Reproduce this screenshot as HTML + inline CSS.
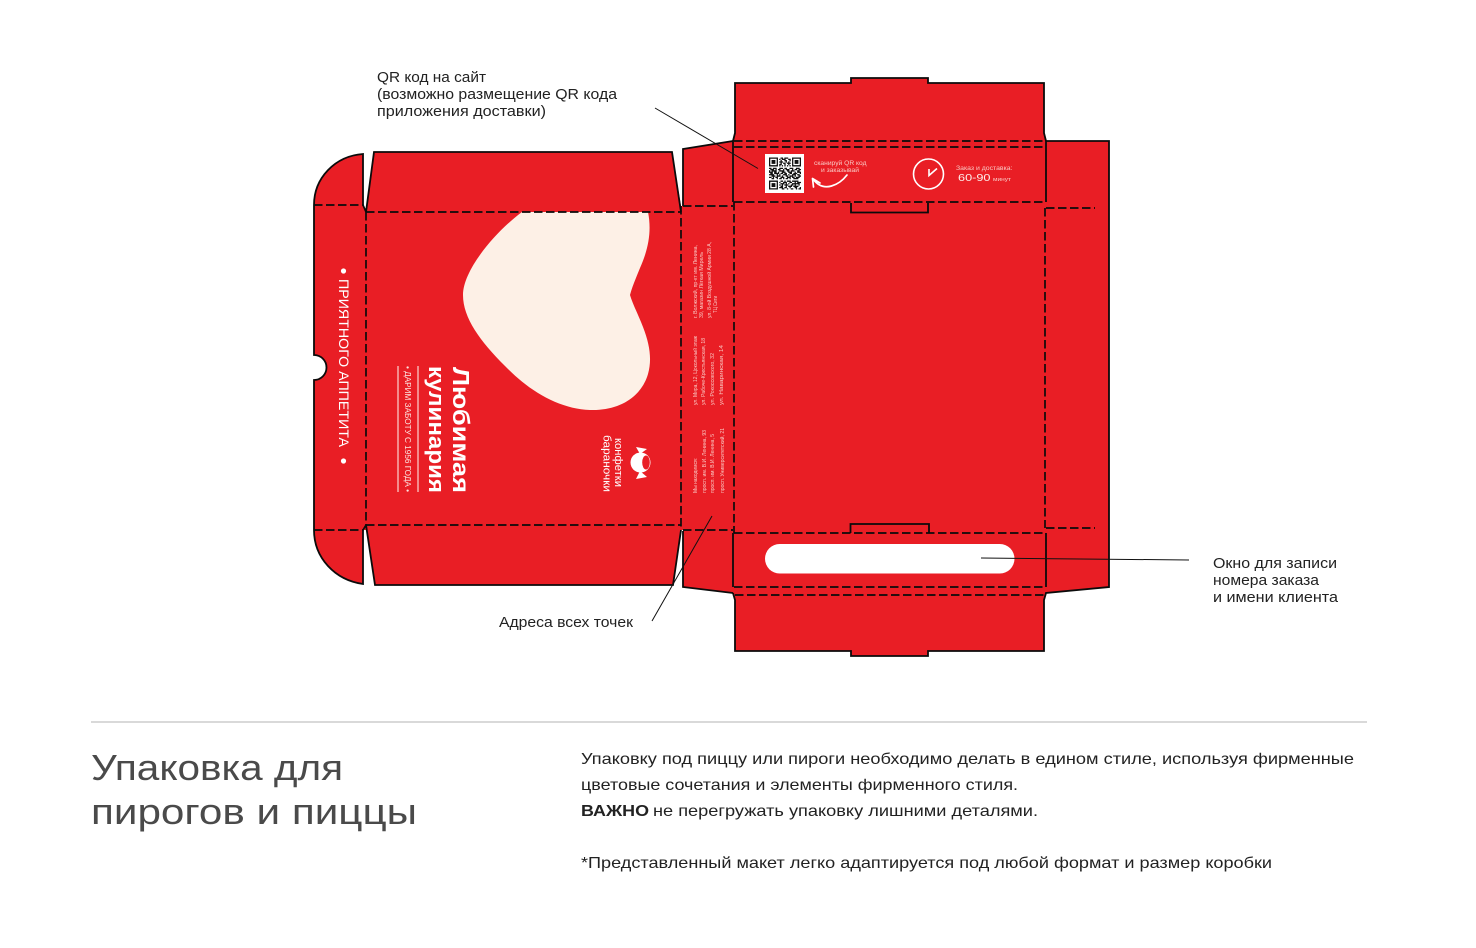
<!DOCTYPE html>
<html lang="ru"><head><meta charset="utf-8"><title>Упаковка</title>
<style>
html,body{margin:0;padding:0;background:#fff;width:1476px;height:948px;overflow:hidden}
svg{display:block}
text{font-family:"Liberation Sans","DejaVu Sans",sans-serif}
.s{fill:none;stroke:#0b0b0b;stroke-width:1.8;stroke-linejoin:miter}
.d{fill:none;stroke:#0b0b0b;stroke-width:1.7;stroke-dasharray:8.5 3.5}
.r{fill:#e91e25}
.a{font-size:14.5px;fill:#222}
.b{font-size:16px;fill:#222}
.t{font-size:5px;fill:#f9c9c4}
</style></head><body>
<svg width="1476" height="948" viewBox="0 0 1476 948" xmlns="http://www.w3.org/2000/svg">
<!-- red fills -->
<path class="r" d="M735 83H851V78H928V83H1044V133L1046 141H1109V587L1046 593L1044 600V651H928V656H851V651H735V600L733 593L683 587V530H681L673 585H375L366 525V530H363V584C335 580 314 558 314 530V380A11.5 11.5 0 0 0 314 355V205C314 178 335 156 363 154V205L366 212L374 152H672L681 206H683V149L733 141L735 133Z"/>
<!-- heart -->
<path fill="#fdf0e6" d="M522 212H648C652 232 648 250 640 268C636 278 632 287 630 295C633 305 638 314 643 327C650 345 652 360 648 374C641 398 618 411 590 410C560 409 530 392 505 366C480 341 463 318 463 295C463 270 495 232 522 212Z"/>
<!-- outlines -->
<path class="s" d="M733 141L735 133V83H851V78H928V83H1044V133L1046 141"/>
<path class="s" d="M733 141V202M1046 141V202M733 533V587M1046 533V587"/>
<path class="s" d="M851 203V212.5H928V203M850.5 533V524H929V533"/>
<path class="s" d="M1046 141H1109V587L1046 593L1044 600V651H928V656H851V651H735V600L733 593"/>
<path class="s" d="M733 593L683 587V531M683 206V149L733 141"/>
<path class="s" d="M681 212L672 152H374L366 212M366 525L375 585H673L681 530"/>
<path class="s" d="M363 205V154C335 156 314 178 314 205V355A11.5 11.5 0 0 1 314 380V530C314 558 335 580 363 584V530"/>
<!-- folds -->
<path class="d" d="M734 141H1046M734 147H1046M734 202H1046M734 533H1046M734 587H1046M735 595H1044"/>
<path class="d" d="M1046 208H1095M1046 528H1095M1045 208V528M734 202V533"/>
<path class="d" d="M683 206H733M683 530H733M681 206V530"/>
<path class="d" d="M366 212H681M366 525H681M366 212V525"/>
<path class="d" d="M314 205H363L366 212M314 530H363L366 525"/>
<!-- window -->
<rect x="765" y="544" width="249.5" height="29.5" rx="14.7" fill="#fff"/>
<!-- QR -->
<rect x="765" y="154" width="39" height="39" fill="#fff"/>
<g transform="translate(769 157.5) scale(1.28)" fill="none" stroke="#111" stroke-width="1">
<path d="M0 .5h7M0 1.5h1M6 1.5h1M0 2.5h1M2 2.5h3M6 2.5h1M0 3.5h1M2 3.5h3M6 3.5h1M0 4.5h1M2 4.5h3M6 4.5h1M0 5.5h1M6 5.5h1M0 6.5h7"/>
<path d="M18 .5h7M18 1.5h1M24 1.5h1M18 2.5h1M20 2.5h3M24 2.5h1M18 3.5h1M20 3.5h3M24 3.5h1M18 4.5h1M20 4.5h3M24 4.5h1M18 5.5h1M24 5.5h1M18 6.5h7"/>
<path d="M0 18.5h7M0 19.5h1M6 19.5h1M0 20.5h1M2 20.5h3M6 20.5h1M0 21.5h1M2 21.5h3M6 21.5h1M0 22.5h1M2 22.5h3M6 22.5h1M0 23.5h1M6 23.5h1M0 24.5h7"/>
<path d="M9 .5h2M12 .5h3M8 1.5h1M10 1.5h3M15 1.5h2M9 2.5h1M12 2.5h2M16 2.5h1M8 3.5h3M13 3.5h1M15 3.5h1M9 4.5h1M11 4.5h2M14 4.5h3M8 5.5h2M12 5.5h1M15 5.5h1M8 6.5h1M10 6.5h1M12 6.5h1M14 6.5h1M16 6.5h1"/>
<path d="M0 8.5h2M3 8.5h3M8 8.5h3M12 8.5h2M16 8.5h3M21 8.5h3M1 9.5h3M5 9.5h1M7 9.5h2M11 9.5h1M13 9.5h3M18 9.5h1M20 9.5h2M23 9.5h2M0 10.5h1M2 10.5h4M8 10.5h4M14 10.5h2M17 10.5h3M22 10.5h2M0 11.5h3M4 11.5h2M7 11.5h1M10 11.5h3M15 11.5h3M20 11.5h1M22 11.5h3M1 12.5h2M4 12.5h4M9 12.5h2M12 12.5h2M16 12.5h2M19 12.5h3M24 12.5h1M0 13.5h4M6 13.5h1M8 13.5h1M11 13.5h3M15 13.5h1M18 13.5h3M22 13.5h2M2 14.5h3M6 14.5h3M10 14.5h1M13 14.5h2M16 14.5h3M20 14.5h1M23 14.5h2M0 15.5h2M3 15.5h1M5 15.5h2M9 15.5h3M14 15.5h3M18 15.5h2M21 15.5h3M2 16.5h2M6 16.5h1M8 16.5h2M11 16.5h1M13 16.5h2M16 16.5h1M19 16.5h4"/>
<path d="M9 18.5h2M12 18.5h1M14 18.5h3M18 18.5h5M8 19.5h1M11 19.5h3M16 19.5h2M20 19.5h1M22 19.5h3M9 20.5h3M13 20.5h1M15 20.5h1M18 20.5h6M8 21.5h1M10 21.5h1M12 21.5h3M17 21.5h2M20 21.5h1M23 21.5h1M9 22.5h2M13 22.5h1M15 22.5h3M19 22.5h4M8 23.5h3M12 23.5h2M16 23.5h1M20 23.5h2M24 23.5h1M10 24.5h2M14 24.5h1M17 24.5h2M21 24.5h1M23 24.5h2"/>
</g>
<text x="814" y="165" class="t" style="font-size:6px" textLength="52.5" lengthAdjust="spacingAndGlyphs">сканируй QR код</text>
<text x="821" y="172" class="t" style="font-size:6px" textLength="38" lengthAdjust="spacingAndGlyphs">и заказывай</text>
<path d="M847 175C840 184 824 194 813 179M812.5 178.5L813.5 187M812.5 178.5L820 183" fill="none" stroke="#fff" stroke-width="1.7" stroke-linecap="round"/>
<circle cx="928.5" cy="174" r="15" fill="none" stroke="#fff" stroke-width="1.6"/>
<path d="M929 169V175.5L937 168.5" fill="none" stroke="#fff" stroke-width="1.6"/>
<text x="956" y="170" class="t" style="font-size:6px" textLength="56.5" lengthAdjust="spacingAndGlyphs">Заказ и доставка:</text>
<text x="958" y="181" font-size="10.5" fill="#fdeeea" textLength="32.5" lengthAdjust="spacingAndGlyphs">60-90</text>
<text x="993" y="181" class="t" textLength="18" lengthAdjust="spacingAndGlyphs">минут</text>
<!-- left panel text -->
<text transform="translate(453 367) rotate(90)" font-size="23" font-weight="700" fill="#fff" textLength="126" lengthAdjust="spacingAndGlyphs">Любимая</text>
<text transform="translate(429 366) rotate(90)" font-size="22" font-weight="700" fill="#fff" textLength="127" lengthAdjust="spacingAndGlyphs">кулинария</text>
<path d="M398 366V492M418 366V492" stroke="#fbd6d2" stroke-width="1.2"/>
<text transform="translate(405 366) rotate(90)" font-size="8" fill="#fde3df" textLength="126" lengthAdjust="spacingAndGlyphs">• ДАРИМ ЗАБОТУ С 1956 ГОДА •</text>
<text transform="translate(339 279) rotate(90)" font-size="14" fill="#fff" textLength="168" lengthAdjust="spacingAndGlyphs">ПРИЯТНОГО АППЕТИТА</text>
<circle cx="343.5" cy="271" r="2.6" fill="#fff"/><circle cx="343.5" cy="461" r="2.6" fill="#fff"/>
<text transform="translate(615 438) rotate(90)" font-size="11" fill="#fff" textLength="49" lengthAdjust="spacingAndGlyphs">конфетки</text>
<text transform="translate(603.5 435) rotate(90)" font-size="11" fill="#fff" textLength="57" lengthAdjust="spacingAndGlyphs">бараночки</text>
<circle cx="640.5" cy="462.5" r="10" fill="#fff"/>
<ellipse cx="646" cy="462.5" rx="3.8" ry="7" fill="#e91e25"/>
<path d="M640 454L636 447L647 449ZM640 471L636 479L647 477Z" fill="#fff"/>
<!-- addresses -->
<g class="addr">
<text transform="translate(697 493) rotate(-90)" class="t" textLength="35" lengthAdjust="spacingAndGlyphs">Мы находимся:</text>
<text transform="translate(706 493) rotate(-90)" class="t" textLength="63" lengthAdjust="spacingAndGlyphs">просп. им. В.И. Ленина, 93</text>
<text transform="translate(714 493) rotate(-90)" class="t" textLength="59" lengthAdjust="spacingAndGlyphs">просп. им. В.И. Ленина, 5</text>
<text transform="translate(724 493) rotate(-90)" class="t" textLength="65" lengthAdjust="spacingAndGlyphs">просп. Университетский, 21</text>
<text transform="translate(697 405) rotate(-90)" class="t" textLength="69" lengthAdjust="spacingAndGlyphs">ул. Мира, 12, Цокольный этаж</text>
<text transform="translate(705 405) rotate(-90)" class="t" textLength="67" lengthAdjust="spacingAndGlyphs">ул. Рабоче-Крестьянская, 18</text>
<text transform="translate(714 405) rotate(-90)" class="t" textLength="52" lengthAdjust="spacingAndGlyphs">ул. Рокоссовского, 32</text>
<text transform="translate(723 405) rotate(-90)" class="t" textLength="60" lengthAdjust="spacingAndGlyphs">ул. Наваринская, 14</text>
<text transform="translate(697 318) rotate(-90)" class="t" textLength="73" lengthAdjust="spacingAndGlyphs">г. Волжский, пр-кт им. Ленина,</text>
<text transform="translate(703 318) rotate(-90)" class="t" textLength="66" lengthAdjust="spacingAndGlyphs">39, магазин Лёгкая Мирель</text>
<text transform="translate(711 318) rotate(-90)" class="t" textLength="76" lengthAdjust="spacingAndGlyphs">ул. 8-ой Воздушной Армии 28 А,</text>
<text transform="translate(717 313) rotate(-90)" class="t" textLength="17" lengthAdjust="spacingAndGlyphs">ТЦ Сити</text>
</g>
<!-- leaders -->
<path d="M655 108L758 168.5M652 621L712 516M981 558L1189 560" stroke="#111" stroke-width="1" fill="none"/>
<!-- annotations -->
<text x="377" y="82" class="a" textLength="109" lengthAdjust="spacingAndGlyphs">QR код на сайт</text>
<text x="377" y="99" class="a" textLength="240" lengthAdjust="spacingAndGlyphs">(возможно размещение QR кода</text>
<text x="377" y="116" class="a" textLength="169" lengthAdjust="spacingAndGlyphs">приложения доставки)</text>
<text x="499" y="627" class="a" textLength="134" lengthAdjust="spacingAndGlyphs">Адреса всех точек</text>
<text x="1213" y="568" class="a" textLength="124" lengthAdjust="spacingAndGlyphs">Окно для записи</text>
<text x="1213" y="585" class="a" textLength="106" lengthAdjust="spacingAndGlyphs">номера заказа</text>
<text x="1213" y="602" class="a" textLength="125" lengthAdjust="spacingAndGlyphs">и имени клиента</text>
<!-- bottom -->
<rect x="91" y="721" width="1276" height="2" fill="#d9d9d9"/>
<text x="91" y="780" font-size="36" fill="#4a4a4a" textLength="252" lengthAdjust="spacingAndGlyphs">Упаковка для</text>
<text x="91" y="824" font-size="36" fill="#4a4a4a" textLength="326" lengthAdjust="spacingAndGlyphs">пирогов и пиццы</text>
<text x="581" y="764" class="b" textLength="773" lengthAdjust="spacingAndGlyphs">Упаковку под пиццу или пироги необходимо делать в едином стиле, используя фирменные</text>
<text x="581" y="790" class="b" textLength="437" lengthAdjust="spacingAndGlyphs">цветовые сочетания и элементы фирменного стиля.</text>
<text x="581" y="816" class="b" font-weight="700" fill="#111" textLength="68" lengthAdjust="spacingAndGlyphs">ВАЖНО</text>
<text x="653" y="816" class="b" textLength="385" lengthAdjust="spacingAndGlyphs">не перегружать упаковку лишними деталями.</text>
<text x="581" y="868" class="b" textLength="691" lengthAdjust="spacingAndGlyphs">*Представленный макет легко адаптируется под любой формат и размер коробки</text>
</svg>
</body></html>
